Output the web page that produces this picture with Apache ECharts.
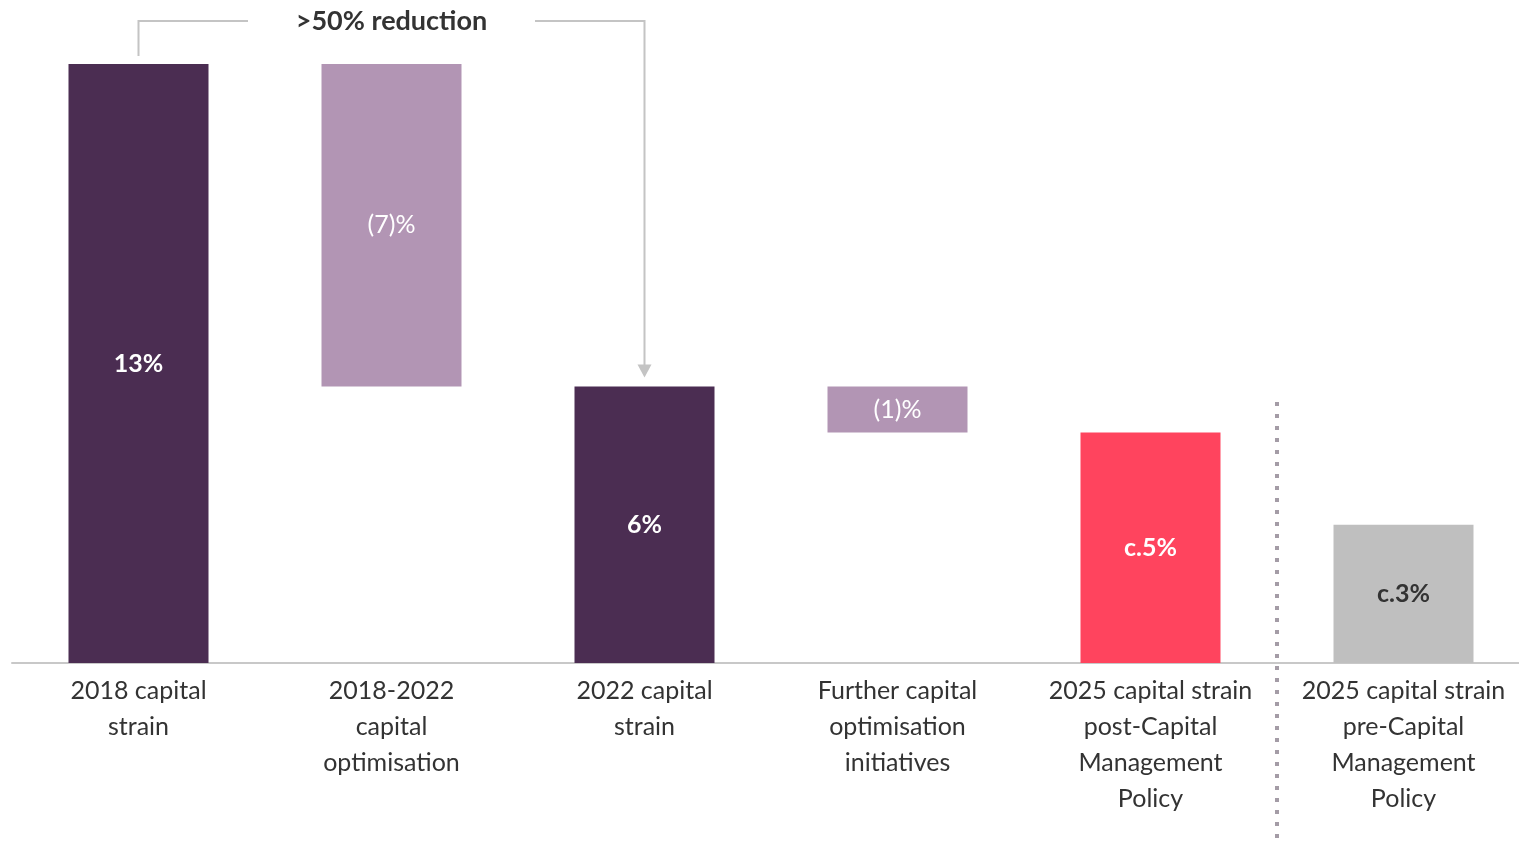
<!DOCTYPE html>
<html>
<head>
<meta charset="utf-8">
<title>Capital strain reduction</title>
<script src="https://cdn.jsdelivr.net/npm/echarts@6/dist/echarts.min.js"></script>
<style>
  html, body { margin: 0; padding: 0; background: #ffffff; }
  #chart { width: 1519px; height: 844px; }
</style>
</head>
<body>
<div id="chart"></div>
<script>
// Waterfall of capital strain, 2018 to 2025
const categories = [
  '2018 capital\nstrain',
  '2018-2022\ncapital\noptimisation',
  '2022 capital\nstrain',
  'Further capital\noptimisation\ninitiatives',
  '2025 capital strain\npost-Capital\nManagement\nPolicy',
  '2025 capital strain\npre-Capital\nManagement\nPolicy'
];
// invisible offset under each floating bar
const offsets = [0, 6, 0, 5, 0, 0];
// visible bar heights (%)
const values = [13, 7, 6, 1, 5, 3];
const valueLabels = ['13%', '(7)%', '6%', '(1)%', 'c.5%', 'c.3%'];
const barColors = ['#4b2d52', '#b295b4', '#4b2d52', '#b295b4', '#ff445e', '#bfbfbf'];
const labelColors = ['#ffffff', '#ffffff', '#ffffff', '#ffffff', '#ffffff', '#333333'];
const labelWeights = ['bold', 'normal', 'bold', 'normal', 'bold', 'bold'];
const bracketText = '>50% reduction';

const FONT = 'Lato, "Noto Sans", sans-serif';
const chart = echarts.init(document.getElementById('chart'), null, { renderer: 'canvas' });

chart.setOption({
  animation: false,
  backgroundColor: '#ffffff',
  grid: { left: 12, top: 64, right: -11, bottom: 181, containLabel: false, outerBoundsMode: 'none' },
  xAxis: {
    type: 'category',
    data: categories,
    axisLine: { show: true, lineStyle: { color: '#c8c8c8', width: 2 } },
    axisTick: { show: false },
    axisLabel: {
      interval: 0, margin: 10, color: '#333333',
      fontFamily: FONT, fontSize: 25, lineHeight: 36
    }
  },
  yAxis: {
    type: 'value', min: 0, max: 13, show: false,
    splitLine: { show: false }
  },
  series: [
    {
      type: 'bar', stack: 'w', barWidth: 140,
      itemStyle: { color: 'transparent' },
      emphasis: { disabled: true },
      data: offsets
    },
    {
      type: 'bar', stack: 'w', barWidth: 140,
      emphasis: { disabled: true },
      data: values.map((v, i) => ({
        value: v,
        itemStyle: { color: barColors[i] },
        label: {
          show: true, position: 'inside',
          formatter: valueLabels[i],
          color: labelColors[i],
          fontFamily: FONT, fontSize: 25, fontWeight: labelWeights[i]
        }
      }))
    }
  ]
});

// Annotation bracket and divider, placed from data coordinates
function drawOverlay() {
  const px = (c, v) => chart.convertToPixel({ gridIndex: 0 }, [c, v]);
  const p0 = px(0, offsets[0] + values[0]);
  const p2 = px(2, offsets[2] + values[2]);
  const p4 = px(4, 0);
  const p5 = px(5, 0);
  const topY = 21;
  const textMidX = px(1, 0)[0];
  const gray = '#c4c4c4';
  const divX = (p4[0] + p5[0]) / 2;
  chart.setOption({
    graphic: [
      { type: 'polyline', shape: { points: [[p0[0], p0[1] - 8], [p0[0], topY], [248, topY]] },
        style: { stroke: gray, lineWidth: 2, fill: null } },
      { type: 'polyline', shape: { points: [[535, topY], [p2[0], topY], [p2[0], p2[1] - 20]] },
        style: { stroke: gray, lineWidth: 2, fill: null } },
      { type: 'polygon', shape: { points: [[p2[0] - 7, p2[1] - 22], [p2[0] + 7, p2[1] - 22], [p2[0], p2[1] - 9]] },
        style: { fill: gray } },
      { type: 'text', x: textMidX, y: topY,
        style: { text: bracketText, fill: '#333333', font: 'bold 27px ' + FONT,
                 textAlign: 'center', textVerticalAlign: 'middle' } },
      { type: 'line', shape: { x1: divX, y1: 402, x2: divX, y2: 844 },
        style: { stroke: '#a49ca6', lineWidth: 4, lineDash: [4, 8] } }
    ]
  });
}
drawOverlay();
</script>
</body>
</html>
